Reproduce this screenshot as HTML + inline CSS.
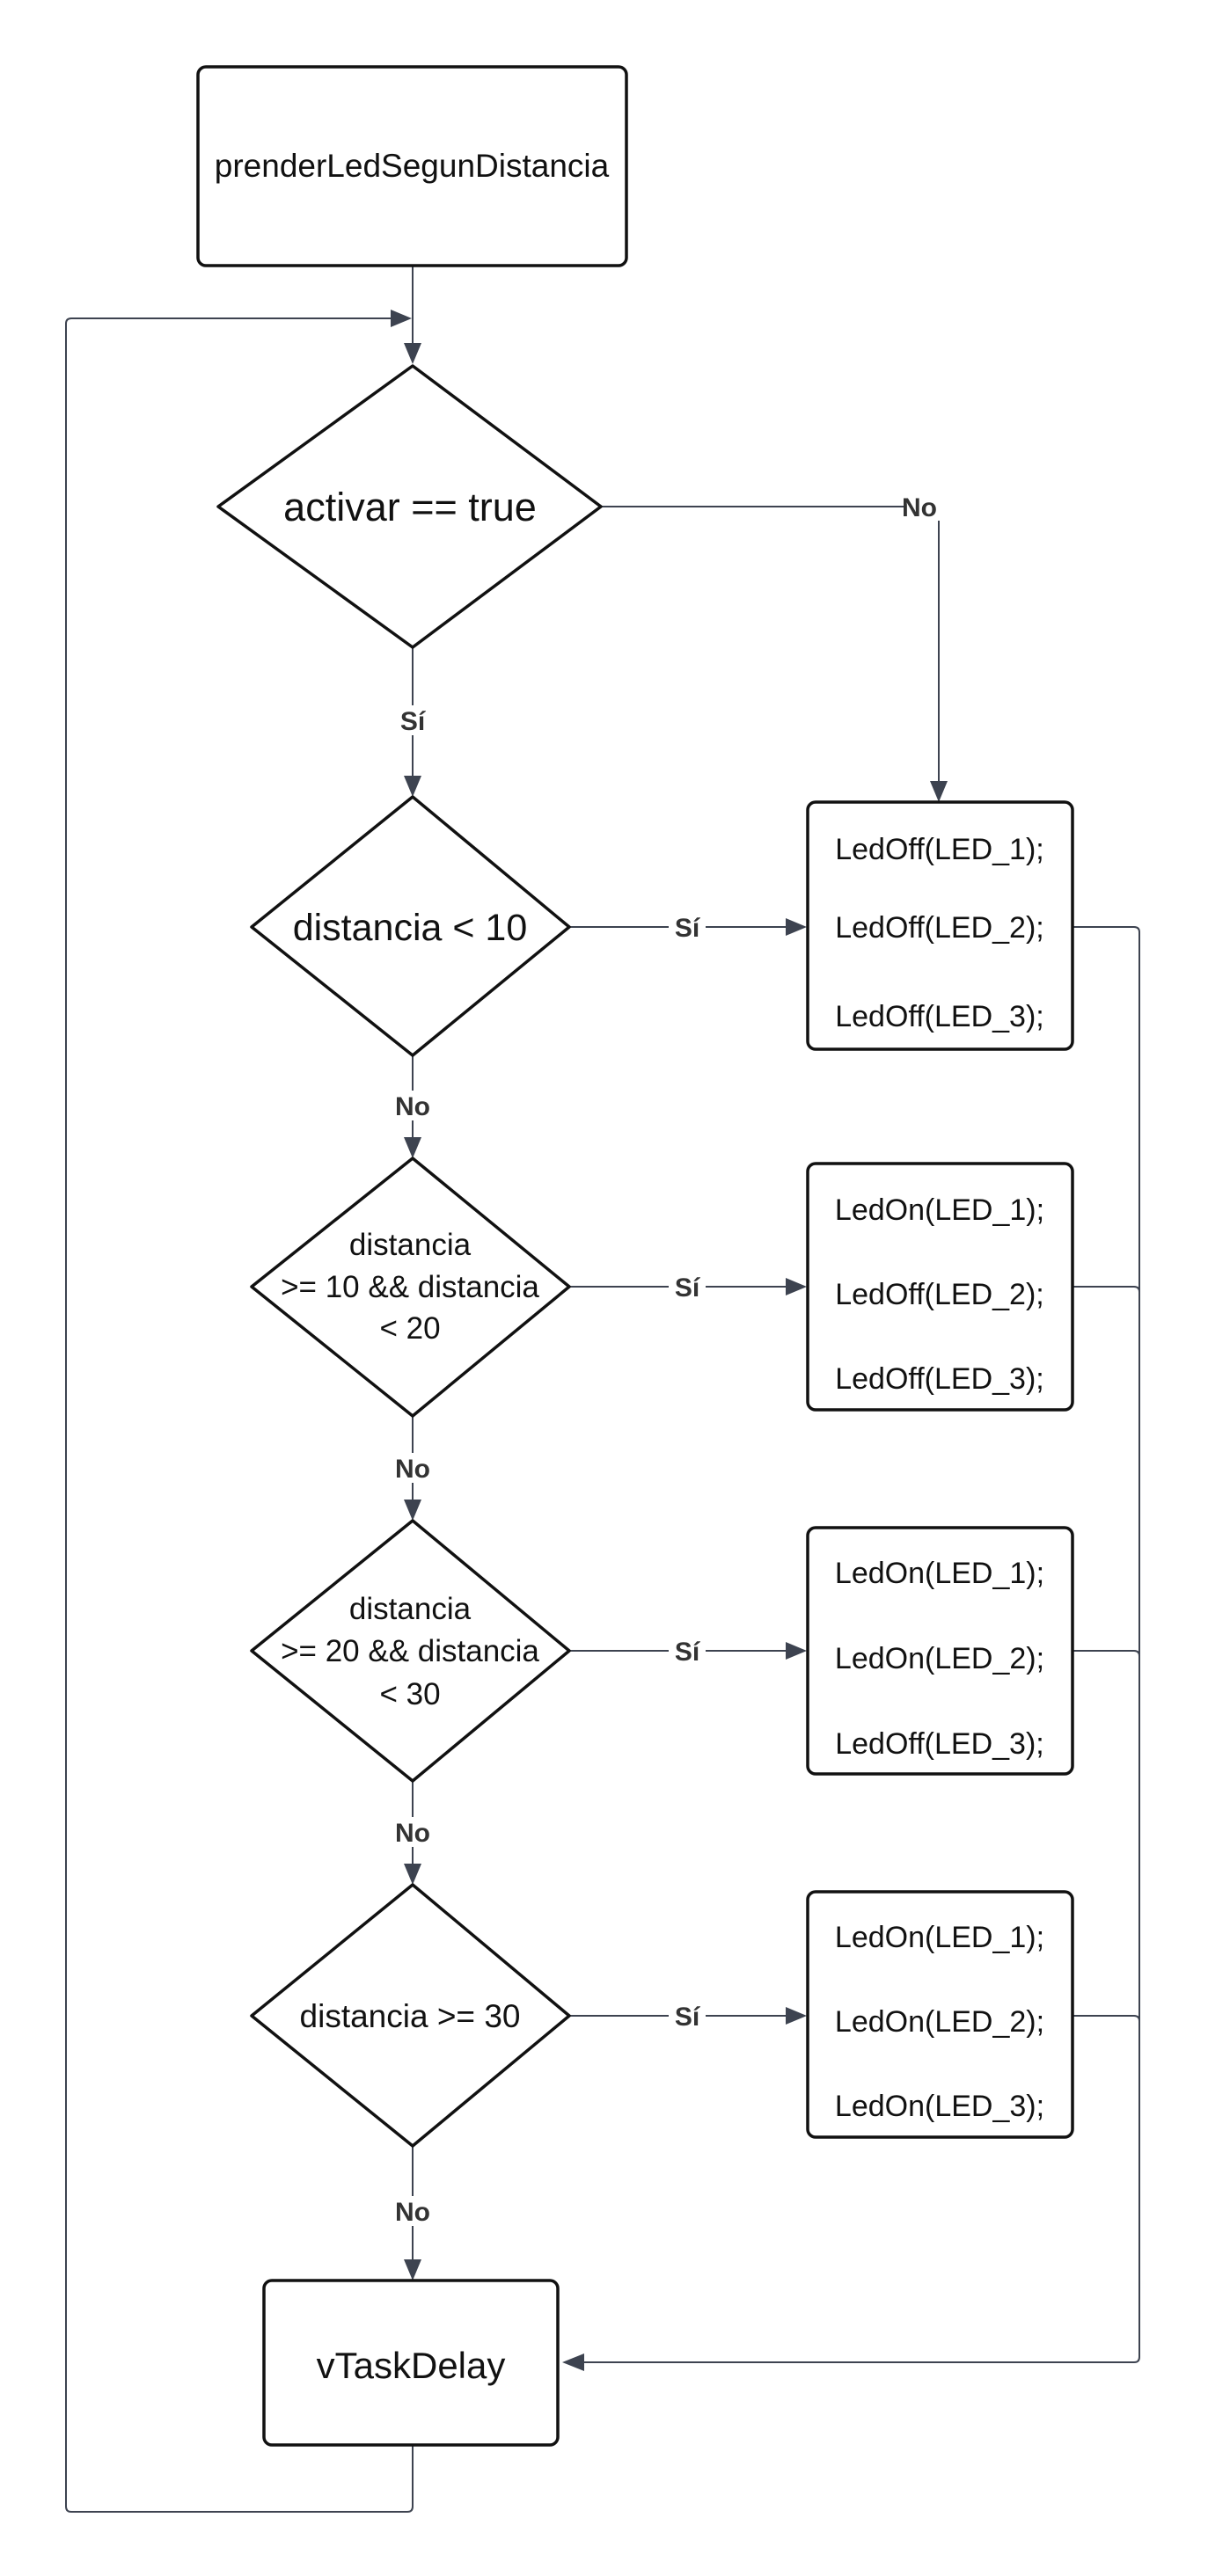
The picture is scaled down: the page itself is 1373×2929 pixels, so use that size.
<!DOCTYPE html>
<html><head><meta charset="utf-8"><style>
html,body{margin:0;padding:0;background:#fff;}
svg{display:block;}
text{font-family:"Liberation Sans",sans-serif;fill:#111;}
.n{fill:#fff;stroke:#111;stroke-width:3.5;stroke-linejoin:round;}
.c{fill:none;stroke:#3d4350;stroke-width:2;}
.lbl{font-weight:bold;fill:#333;font-size:30px;}
.ah{fill:#3d4350;}
</style></head><body>
<svg width="1373" height="2929" viewBox="0 0 1373 2929" xmlns="http://www.w3.org/2000/svg">
<path class="c" d="M469 302 V400"/>
<polygon class="ah" points="459,390 479,390 469,414"/>
<path class="c" d="M469 2780 V2850 Q469 2856 463 2856 H81 Q75 2856 75 2850 V368 Q75 362 81 362 H450"/>
<polygon class="ah" points="444,352 444,372 468,362"/>
<path class="c" d="M683 576 H1061 Q1067 576 1067 582 V890"/>
<polygon class="ah" points="1057,888 1077,888 1067,912"/>
<rect x="1030" y="560" width="38" height="32" fill="#fff"/>
<text class="lbl" x="1045" y="587" text-anchor="middle">No</text>
<path class="c" d="M469 736 V885"/>
<polygon class="ah" points="459,882 479,882 469,906"/>
<rect x="448" y="802" width="42" height="34" fill="#fff"/>
<text class="lbl" x="469" y="830" text-anchor="middle">Sí</text>
<path class="c" d="M469 1200 V1296"/>
<polygon class="ah" points="459,1293 479,1293 469,1317"/>
<rect x="444" y="1240" width="50" height="34" fill="#fff"/>
<text class="lbl" x="469" y="1268" text-anchor="middle">No</text>
<path class="c" d="M469 1610 V1708"/>
<polygon class="ah" points="459,1705 479,1705 469,1729"/>
<rect x="444" y="1652" width="50" height="34" fill="#fff"/>
<text class="lbl" x="469" y="1680" text-anchor="middle">No</text>
<path class="c" d="M469 2025 V2122"/>
<polygon class="ah" points="459,2119 479,2119 469,2143"/>
<rect x="444" y="2066" width="50" height="34" fill="#fff"/>
<text class="lbl" x="469" y="2094" text-anchor="middle">No</text>
<path class="c" d="M469 2440 V2572"/>
<polygon class="ah" points="459,2569 479,2569 469,2593"/>
<rect x="444" y="2497" width="50" height="34" fill="#fff"/>
<text class="lbl" x="469" y="2525" text-anchor="middle">No</text>
<g>
<path class="c" d="M647 1054 H898"/><polygon class="ah" points="893,1044 893,1064 917,1054"/>
<rect x="760" y="1038" width="42" height="32" fill="#fff"/><text class="lbl" x="781" y="1065" text-anchor="middle">Sí</text>
<path class="c" d="M647 1463 H898"/><polygon class="ah" points="893,1453 893,1473 917,1463"/>
<rect x="760" y="1447" width="42" height="32" fill="#fff"/><text class="lbl" x="781" y="1474" text-anchor="middle">Sí</text>
<path class="c" d="M647 1877 H898"/><polygon class="ah" points="893,1867 893,1887 917,1877"/>
<rect x="760" y="1861" width="42" height="32" fill="#fff"/><text class="lbl" x="781" y="1888" text-anchor="middle">Sí</text>
<path class="c" d="M647 2292 H898"/><polygon class="ah" points="893,2282 893,2302 917,2292"/>
<rect x="760" y="2276" width="42" height="32" fill="#fff"/><text class="lbl" x="781" y="2303" text-anchor="middle">Sí</text>
</g>
<path class="c" d="M1219 1054 H1289 Q1295 1054 1295 1060 V2680 Q1295 2686 1289 2686 H660"/>
<path class="c" d="M1219 1463 H1289 Q1295 1463 1295 1469"/>
<path class="c" d="M1219 1877 H1289 Q1295 1877 1295 1883"/>
<path class="c" d="M1219 2292 H1289 Q1295 2292 1295 2298"/>
<polygon class="ah" points="664,2676 664,2696 639,2686"/>
<rect class="n" x="225" y="76" width="487" height="226" rx="9"/>
<text x="468" y="201" font-size="37" text-anchor="middle">prenderLedSegunDistancia</text>
<polygon class="n" points="469,416 683,576 469,736 248,576"/>
<text x="466" y="592" font-size="45" text-anchor="middle">activar == true</text>
<polygon class="n" points="469,906 647,1054 469,1200 286,1054"/>
<text x="466" y="1069" font-size="43" text-anchor="middle">distancia &lt; 10</text>
<polygon class="n" points="469,1317 647,1463 469,1610 286,1463"/>
<text font-size="35" text-anchor="middle"><tspan x="466" y="1427">distancia</tspan><tspan x="466" y="1475">&gt;= 10 &amp;&amp; distancia</tspan><tspan x="466" y="1522">&lt; 20</tspan></text>
<polygon class="n" points="469,1729 647,1877 469,2025 286,1877"/>
<text font-size="35" text-anchor="middle"><tspan x="466" y="1841">distancia</tspan><tspan x="466" y="1889">&gt;= 20 &amp;&amp; distancia</tspan><tspan x="466" y="1938">&lt; 30</tspan></text>
<polygon class="n" points="469,2143 647,2292 469,2440 286,2292"/>
<text x="466" y="2305" font-size="37" text-anchor="middle">distancia &gt;= 30</text>
<rect class="n" x="918" y="912" width="301" height="281" rx="9"/>
<text font-size="34" text-anchor="middle"><tspan x="1068" y="977">LedOff(LED_1);</tspan><tspan x="1068" y="1066">LedOff(LED_2);</tspan><tspan x="1068" y="1167">LedOff(LED_3);</tspan></text>
<rect class="n" x="918" y="1323" width="301" height="280" rx="9"/>
<text font-size="34" text-anchor="middle"><tspan x="1068" y="1387">LedOn(LED_1);</tspan><tspan x="1068" y="1483">LedOff(LED_2);</tspan><tspan x="1068" y="1579">LedOff(LED_3);</tspan></text>
<rect class="n" x="918" y="1737" width="301" height="280" rx="9"/>
<text font-size="34" text-anchor="middle"><tspan x="1068" y="1800">LedOn(LED_1);</tspan><tspan x="1068" y="1897">LedOn(LED_2);</tspan><tspan x="1068" y="1994">LedOff(LED_3);</tspan></text>
<rect class="n" x="918" y="2151" width="301" height="279" rx="9"/>
<text font-size="34" text-anchor="middle"><tspan x="1068" y="2214">LedOn(LED_1);</tspan><tspan x="1068" y="2310">LedOn(LED_2);</tspan><tspan x="1068" y="2406">LedOn(LED_3);</tspan></text>
<rect class="n" x="300" y="2593" width="334" height="187" rx="9"/>
<text x="467" y="2704" font-size="42" text-anchor="middle">vTaskDelay</text>
</svg>
</body></html>
